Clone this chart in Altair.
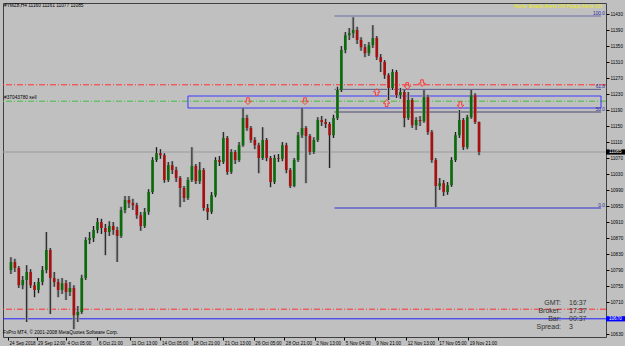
import altair as alt
import pandas as pd

# ---------------- data ----------------
O = [10790,10810,10795,10752,10765,10785,10752,10740,10760,10790,
     10840,10770,10760,10740,10757,10735,10745,10677,10685,10770,
     10865,10870,10890,10910,10895,10885,10900,10890,10875,10940,
     10965,10957,10952,10927,10900,10935,10985,11065,11082,11077,
     11015,11052,11040,11020,10995,10970,11015,11050,11012,11040,
     10945,10935,10977,11065,11060,11120,11035,11085,11065,11102,
     11170,11145,11115,11102,11070,11115,11070,11010,11070,11068,
     11102,11040,11000,11065,11127,11145,11125,11085,11115,11165,
     11160,11155,11127,11170,11240,11340,11377,11382,11390,11365,
     11347,11332,11352,11370,11322,11310,11277,11245,11285,11227,
     11235,11170,11215,11152,11165,11162,11222,11135,11065,11000,
     11007,10985,11002,11065,11127,11165,11097,11172,11227,11160]
C = [10810,10795,10752,10765,10785,10752,10740,10760,10790,10840,
     10770,10760,10740,10757,10735,10745,10677,10685,10770,10865,
     10870,10890,10910,10895,10885,10900,10890,10875,10940,10965,
     10957,10952,10927,10900,10935,10985,11065,11082,11077,11015,
     11052,11040,11020,10995,10970,11015,11050,11012,11040,10945,
     10935,10977,11065,11060,11120,11035,11085,11065,11102,11170,
     11145,11115,11102,11070,11115,11070,11010,11070,11068,11102,
     11040,11000,11065,11127,11145,11125,11085,11115,11165,11160,
     11155,11127,11170,11240,11340,11377,11382,11390,11365,11347,
     11332,11352,11370,11322,11310,11277,11245,11285,11227,11235,
     11170,11215,11152,11165,11162,11222,11135,11065,11000,11007,
     10985,11002,11065,11127,11165,11097,11172,11227,11160,11085]
H = [10822,10818,10800,10775,10802,10792,10760,10770,10800,10885,
     10845,10785,10768,10770,10765,10760,10752,10700,10778,10872,
     10885,10900,10920,10918,10905,10912,10910,10898,10948,10975,
     10975,10968,10958,10935,10945,10992,11072,11097,11092,11082,
     11060,11062,11048,11025,11000,11022,11097,11055,11060,11045,
     10955,10985,11072,11075,11135,11125,11092,11090,11110,11195,
     11178,11150,11122,11108,11147,11120,11075,11078,11080,11110,
     11108,11045,11070,11135,11195,11150,11130,11122,11172,11175,
     11168,11160,11178,11248,11350,11385,11395,11422,11398,11372,
     11355,11360,11402,11375,11330,11315,11282,11292,11290,11245,
     11240,11235,11220,11172,11175,11240,11228,11140,11070,11020,
     11015,11010,11072,11135,11190,11170,11178,11240,11232,11161]
L = [10780,10785,10745,10742,10660,10745,10722,10732,10752,10782,
     10680,10748,10722,10730,10715,10725,10642,10660,10680,10765,
     10855,10860,10882,10880,10827,10875,10878,10810,10870,10932,
     10945,10940,10918,10888,10895,10928,10980,11060,11068,11008,
     11010,11030,11010,10947,10960,10965,11010,11005,11005,10938,
     10915,10930,10972,11050,11055,11028,11030,11055,11060,11098,
     11138,11108,11092,11032,11065,11062,10997,11005,11060,11062,
     11032,10995,10997,11060,11120,11007,11078,11080,11110,11150,
     11145,11045,11120,11165,11235,11332,11365,11370,11355,11338,
     11322,11325,11345,11315,11285,11268,11215,11240,11220,11218,
     11147,11165,11145,11140,11150,11158,11128,11058,10947,10990,
     10975,10978,10998,11060,11120,11090,11092,11168,11155,11077]

time_labels = ["24 Sep 2018", "29 Sep 12:00", "4 Oct 05:00", "6 Oct 21:00",
               "11 Oct 13:00", "14 Oct 05:00", "18 Oct 21:00", "21 Oct 13:00",
               "26 Oct 05:00", "28 Oct 21:00", "2 Nov 13:00", "5 Nov 04:00",
               "9 Nov 21:00", "12 Nov 13:00", "17 Nov 05:00", "19 Nov 21:00"]
time_pos = [-0.75, 6.5, 14, 22, 30.25, 38, 46, 54, 61.75, 69.5, 77.25, 84.75,
            92.5, 100.5, 108.5, 116.25]
price_ticks = list(range(10630, 11431, 40))

fib_levels = ["100.0", "61.8", "50.0", "0.0"]
fib_prices = [11425, 11241.6, 11185, 10945]
fib_start = 82.25

zone_start = 45
zone_top = 11225
zone_bottom = 11195

red_line_1 = 11253
green_line = 11212
red_line_2 = 10692
blue_line = 10668
bid_price = 11085

arrow_pos = [60.25, 74.75, 93, 95.5, 100.75, 104.5, 114.25]
arrow_price = [11212, 11212, 11235, 11207, 11250, 11257, 11202]
arrow_dir = ["down", "down", "up", "up", "down", "down", "down"]

box_labels = ["11085", "10670"]
box_prices = [11085, 10668]
box_colors = ["#000000", "#0000ff"]

info_keys = ["GMT:", "Broker:", "Bar:", "Spread:"]
info_vals = ["16:37", "17:37", "00:37", "3"]

title_text = "#YMZ8,H4  11160 11161 11077 11085"
alert_text = "Alerts:  Emails Alerts ON   Popup Alerts ON"
order_text = "#37043780 sell"
copyright_text = "FxPro MT4, © 2001-2008 MetaQuotes Software Corp."

# ---------------- chart ----------------
FONT = "Liberation Sans"
bars = pd.DataFrame({"i": list(range(len(C))), "o": O, "h": H, "l": L, "c": C})

xs = alt.Scale(domain=[-0.75, 150], nice=False, zero=False)
ys = alt.Scale(domain=[10622.5, 11457.5], nice=False, zero=False)

label_expr = ("[" + ",".join("'" + t + "'" for t in time_labels) + "][indexof(["
              + ",".join(str(v) for v in time_pos) + "], datum.value)]")
xaxis = alt.Axis(values=time_pos, labelExpr=label_expr, orient="bottom", domain=False,
                 grid=False, tickSize=3, tickColor="#000000", labelFontSize=4.6,
                 labelFont=FONT, labelColor="#000000", labelAlign="left",
                 labelBaseline="top", labelPadding=0, labelOffset=1, title=None,
                 labelOverlap=False, labelFlush=False, labelBound=False)
yaxis = alt.Axis(values=price_ticks, orient="right", domain=False, grid=False,
                 tickSize=3, tickColor="#000000", labelFontSize=4.6, labelFont=FONT,
                 labelPadding=1, labelColor="#000000", format="d", title=None,
                 labelOverlap=False, labelFlush=False, labelBound=False)


def X(f, **kw):
    return alt.X(f, scale=xs, axis=xaxis, **kw)


def Y(f, **kw):
    return alt.Y(f, scale=ys, axis=yaxis, **kw)


base = alt.Chart(bars)
ghost = base.mark_rule(color="#a2a2a2", strokeWidth=3).encode(
    x=X("i:Q"), y=Y("l:Q"), y2="h:Q")
wicks = base.mark_rule(color="#1a1a1a", strokeWidth=1).encode(
    x=X("i:Q"), y=Y("l:Q"), y2="h:Q")
bodies = base.mark_bar(size=2.6).encode(
    x=X("i:Q"), y=Y("o:Q"), y2="c:Q",
    color=alt.condition("datum.c >= datum.o", alt.value("#0b6b0b"), alt.value("#a81010")))

def hline(price, color, dash=None, width=1):
    kw = dict(color=color, strokeWidth=width)
    if dash:
        kw["strokeDash"] = dash
    return alt.Chart(pd.DataFrame({"p": [price]})).mark_rule(**kw).encode(y=Y("p:Q"))

dd = [6, 2, 1, 2]
lines = [
    hline(bid_price, "#9a9a9a"),
    hline(red_line_1, "#ff3030", dd),
    hline(green_line, "#40c040", dd),
    hline(red_line_2, "#ff3030", dd),
    hline(blue_line, "#2020ff"),
]

zone = alt.Chart(pd.DataFrame({"a": [zone_start], "b": [150], "t": [zone_top], "u": [zone_bottom]})).mark_rect(
    fillOpacity=0, stroke="#3a3aff", strokeWidth=1).encode(
    x=X("a:Q"), x2="b:Q", y=Y("t:Q"), y2="u:Q")

fib_df = pd.DataFrame({"lvl": fib_levels, "p": fib_prices, "a": [fib_start] * 4, "b": [150] * 4})
fib_lines = alt.Chart(fib_df).mark_rule(strokeWidth=1).encode(
    x=X("a:Q"), x2="b:Q", y=Y("p:Q"),
    color=alt.Color("lvl:N", scale=alt.Scale(domain=fib_levels,
                                             range=["#6a6aa8", "#5a5a8a", "#4a4a70", "#3030d0"]),
                    legend=None))
fib_text = alt.Chart(fib_df).mark_text(align="right", baseline="bottom", fontSize=4.8, font=FONT,
                                       color="#2a2aa0", dy=-0.5).encode(
    x=alt.value(602), y=Y("p:Q"), text="lvl:N")

DOWN = "M -0.4 -1 L 0.4 -1 L 0.4 0 L 1 0 L 0 1 L -1 0 L -0.4 0 Z"
UP = "M -0.4 1 L 0.4 1 L 0.4 0 L 1 0 L 0 -1 L -1 0 L -0.4 0 Z"
arrows = alt.Chart(pd.DataFrame({"i": arrow_pos, "p": arrow_price, "d": arrow_dir})).mark_point(
    filled=False, size=45, strokeWidth=1, color="#ff3a3a", opacity=1).encode(
    x=X("i:Q"), y=Y("p:Q"),
    shape=alt.Shape("d:N", scale=alt.Scale(domain=["down", "up"], range=[DOWN, UP]), legend=None))

box_df = pd.DataFrame({"t": box_labels, "p": box_prices, "col": box_colors})
boxes = alt.Chart(box_df).transform_calculate(
    top="datum.p + 6.5", bot="datum.p - 6.5").mark_rect(clip=False).encode(
    x=alt.value(603), x2=alt.value(622), y=Y("top:Q"), y2="bot:Q",
    color=alt.Color("col:N", scale=None))
box_text = alt.Chart(box_df).mark_text(align="left", baseline="middle", fontSize=4.6, font=FONT,
                                       color="#ffffff", clip=False).encode(
    x=alt.value(606), y=Y("p:Q"), text="t:N")


def label(txt, x, y, color="#000000", size=4.8, align="left"):
    return alt.Chart(pd.DataFrame({"t": [txt]})).mark_text(
        align=align, baseline="middle", fontSize=size, font=FONT, color=color, clip=False).encode(
        x=alt.value(x), y=alt.value(y), text="t:N")

texts = [
    label(title_text, 1, 2.5),
    label(alert_text, 599, 3.5, color="#eeee00", align="right"),
    label(order_text, 1, 95),
    label(copyright_text, 0, 330),
]
for k, (a, b) in enumerate(zip(info_keys, info_vals)):
    texts.append(label(a, 558, 300 + 8 * k, color="#303030", size=7, align="right"))
    texts.append(label(b, 566, 300 + 8 * k, color="#303030", size=7))

chart = alt.layer(
    *lines, zone, fib_lines, ghost, wicks, bodies, arrows, fib_text, boxes, box_text, *texts
).properties(
    width=603, height=334,
    autosize=alt.AutoSizeParams(type="none"),
    padding={"left": 3, "top": 3, "right": 19, "bottom": 9},
    background="#c0c0c0",
).configure_view(stroke="#404040", strokeWidth=1, fill="#c0c0c0")

chart.save("out.html", embed_options={"renderer": "svg", "actions": False})
